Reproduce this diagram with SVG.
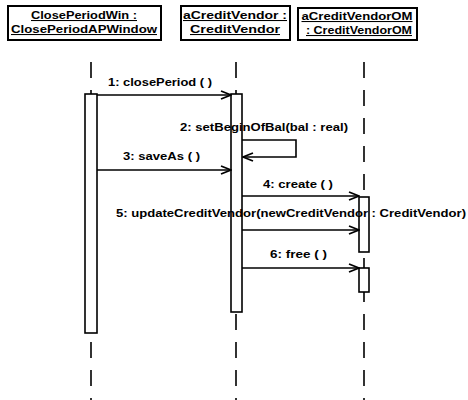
<svg xmlns="http://www.w3.org/2000/svg" width="468" height="400" viewBox="0 0 468 400">
<defs>
<marker id="arr" markerWidth="12" markerHeight="10" refX="11" refY="5" orient="auto" markerUnits="userSpaceOnUse">
<path d="M1,1 L11,5 L1,9" fill="none" stroke="#000" stroke-width="1.8"/>
</marker>
<style>
.box{fill:#fff;stroke:#000;stroke-width:2}
.hd{font-family:"Liberation Sans",Arial,sans-serif;font-size:10.5px;font-weight:bold;text-decoration:underline;fill:#000}
.lbl{font-family:"Liberation Sans",Arial,sans-serif;font-size:10.5px;font-weight:bold;fill:#000}
.life{stroke:#000;stroke-width:1.6;stroke-dasharray:16 12;fill:none}
.act{fill:#fff;stroke:#000;stroke-width:1.6}
.msg{stroke:#000;stroke-width:1.6;fill:none;marker-end:url(#arr)}
</style>
</defs>
<rect width="468" height="400" fill="#fff"/>
<g id="lifelines">
<line class="life" x1="91" y1="62" x2="91" y2="400"/>
<line class="life" x1="236" y1="62" x2="236" y2="400"/>
<line class="life" x1="364" y1="62" x2="364" y2="400"/>
</g>
<g id="n-closePeriodWin">
<rect class="box" x="8" y="6" width="153" height="34"/>
<text class="hd" x="84" y="19" text-anchor="middle" textLength="106" lengthAdjust="spacingAndGlyphs">ClosePeriodWin :</text>
<text class="hd" x="84" y="33" text-anchor="middle" textLength="146" lengthAdjust="spacingAndGlyphs">ClosePeriodAPWindow</text>
<rect class="act" x="85" y="94" width="12" height="239"/>
</g>
<g id="n-aCreditVendor">
<rect class="box" x="181" y="6" width="109" height="34"/>
<text class="hd" x="235" y="19" text-anchor="middle" textLength="104" lengthAdjust="spacingAndGlyphs">aCreditVendor :</text>
<text class="hd" x="235" y="33" text-anchor="middle" textLength="90" lengthAdjust="spacingAndGlyphs">CreditVendor</text>
<rect class="act" x="231" y="94" width="11" height="218"/>
</g>
<g id="n-aCreditVendorOM">
<rect class="box" x="298" y="8" width="119" height="32"/>
<text class="hd" x="357" y="20" text-anchor="middle" textLength="111" lengthAdjust="spacingAndGlyphs">aCreditVendorOM</text>
<text class="hd" x="359" y="34" text-anchor="middle" textLength="106" lengthAdjust="spacingAndGlyphs">: CreditVendorOM</text>
<rect class="act" x="359" y="197" width="10" height="55"/>
<rect class="act" x="359" y="268" width="10" height="24"/>
</g>
<g id="connectors">
<line class="msg" x1="97" y1="95" x2="231" y2="95"/>
<text class="lbl" x="108" y="86" textLength="104" lengthAdjust="spacingAndGlyphs">1: closePeriod ( )</text>
<path class="msg" d="M242,140 H296 V157 H243"/>
<text class="lbl" x="180" y="131" textLength="168" lengthAdjust="spacingAndGlyphs">2: setBeginOfBal(bal : real)</text>
<line class="msg" x1="97" y1="170" x2="231" y2="170"/>
<text class="lbl" x="123" y="160" textLength="77" lengthAdjust="spacingAndGlyphs">3: saveAs ( )</text>
<line class="msg" x1="242" y1="196" x2="359" y2="196"/>
<text class="lbl" x="263" y="188" textLength="70" lengthAdjust="spacingAndGlyphs">4: create ( )</text>
<line class="msg" x1="242" y1="230" x2="359" y2="230"/>
<text class="lbl" x="116" y="217" textLength="350" lengthAdjust="spacingAndGlyphs">5: updateCreditVendor(newCreditVendor : CreditVendor)</text>
<line class="msg" x1="242" y1="268" x2="359" y2="268"/>
<text class="lbl" x="270" y="258" textLength="57" lengthAdjust="spacingAndGlyphs">6: free ( )</text>
</g>
</svg>
